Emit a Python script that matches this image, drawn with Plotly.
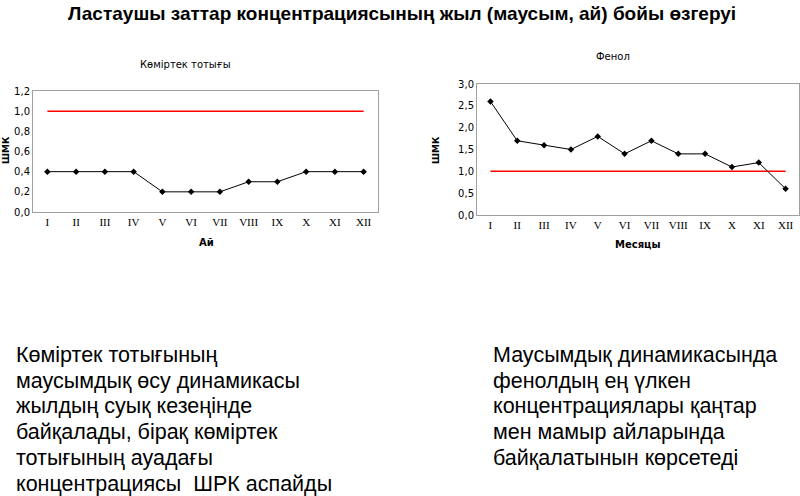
import plotly.graph_objects as go

months = ["I", "II", "III", "IV", "V", "VI", "VII", "VIII", "IX", "X", "XI", "XII"]
month_idx = list(range(1, 13))
co_values = [0.4, 0.4, 0.4, 0.4, 0.2, 0.2, 0.2, 0.3, 0.3, 0.4, 0.4, 0.4]
phenol_values = [2.6, 1.7, 1.6, 1.5, 1.8, 1.4, 1.7, 1.4, 1.4, 1.1, 1.2, 0.6]
limit_values = [1.0] * 12

main_title = "Ластаушы заттар концентрациясының жыл (маусым, ай) бойы өзгеруі"
left_title = "Көміртек тотығы"
right_title = "Фенол"
left_xlabel = "Ай"
right_xlabel = "Месяцы"
ylabel = "ШМК"
left_text = ["Көміртек тотығының", "маусымдық өсу динамикасы", "жылдың суық кезеңінде",
             "байқалады, бірақ көміртек", "тотығының ауадағы", "концентрациясы  ШРК аспайды"]
right_text = ["Маусымдық динамикасында", "фенолдың ең үлкен", "концентрациялары қаңтар",
              "мен мамыр айларында", "байқалатынын көрсетеді"]

W, H = 800, 496
def px(x): return x / W
def py(y): return 1 - y / H

fig = go.Figure()
for vals, xa, ya in [(co_values, "x", "y"), (phenol_values, "x2", "y2")]:
    fig.add_trace(go.Scatter(x=month_idx, y=limit_values, mode="lines",
                             line=dict(color="#ff0000", width=1.5), xaxis=xa, yaxis=ya,
                             showlegend=False, hoverinfo="skip"))
    fig.add_trace(go.Scatter(x=month_idx, y=vals, mode="lines+markers",
                             line=dict(color="black", width=1),
                             marker=dict(symbol="diamond", size=5, color="black"),
                             xaxis=xa, yaxis=ya, showlegend=False))

tickfont_y = dict(family="DejaVu Sans", size=10, color="black")
tickfont_x = dict(family="Liberation Serif", size=11, color="black")
common_x = dict(range=[0.5, 12.5], tickmode="array", tickvals=month_idx, ticktext=months,
                showgrid=False, zeroline=False, showline=True, mirror=True, automargin=False,
                linecolor="#a0a0a0", linewidth=1, tickfont=tickfont_x, ticks="")
common_y = dict(showgrid=False, zeroline=False, showline=True, mirror=True, automargin=False,
                linecolor="#a0a0a0", linewidth=1, tickfont=tickfont_y, tickformat=".1f",
                ticks="")

fig.update_layout(
    width=W, height=H, margin=dict(l=0, r=0, t=0, b=0, autoexpand=False),
    paper_bgcolor="white", plot_bgcolor="white", separators=", ",
    xaxis=dict(domain=[px(33), px(378)], anchor="y", **common_x),
    yaxis=dict(domain=[py(212), py(91)], anchor="x", range=[0, 1.2], dtick=0.2, **common_y),
    xaxis2=dict(domain=[px(477), px(799)], anchor="y2", **common_x),
    yaxis2=dict(domain=[py(215), py(84)], anchor="x2", range=[0, 3.0], dtick=0.5, **common_y),
)

ann = []
ann.append(dict(text="<b>" + main_title + "</b>", x=px(402), y=py(13), xref="paper", yref="paper",
                showarrow=False, font=dict(family="Liberation Sans", size=19, color="black"),
                xanchor="center", yanchor="middle"))
ann.append(dict(text=left_title, x=px(185), y=py(64), xref="paper", yref="paper", showarrow=False,
                font=dict(family="DejaVu Sans", size=10, color="black"), xanchor="center", yanchor="middle"))
ann.append(dict(text=right_title, x=px(613), y=py(56), xref="paper", yref="paper", showarrow=False,
                font=dict(family="DejaVu Sans", size=10, color="black"), xanchor="center", yanchor="middle"))
ann.append(dict(text="<b>" + left_xlabel + "</b>", x=px(206), y=py(242), xref="paper", yref="paper",
                showarrow=False, font=dict(family="DejaVu Sans", size=10, color="black"),
                xanchor="center", yanchor="middle"))
ann.append(dict(text="<b>" + right_xlabel + "</b>", x=px(638), y=py(245), xref="paper", yref="paper",
                showarrow=False, font=dict(family="DejaVu Sans", size=10, color="black"),
                xanchor="center", yanchor="middle"))
ann.append(dict(text="<b>" + ylabel + "</b>", x=px(6), y=py(150), xref="paper", yref="paper",
                showarrow=False, textangle=-90, font=dict(family="DejaVu Sans", size=9, color="black"),
                xanchor="center", yanchor="middle"))
ann.append(dict(text="<b>" + ylabel + "</b>", x=px(436), y=py(150), xref="paper", yref="paper",
                showarrow=False, textangle=-90, font=dict(family="DejaVu Sans", size=9, color="black"),
                xanchor="center", yanchor="middle"))
for i, line in enumerate(left_text):
    ann.append(dict(text=line, x=px(14), y=py(355 + i * 25.7), xref="paper", yref="paper",
                    showarrow=False, font=dict(family="Liberation Sans", size=21.5, color="black"),
                    xanchor="left", yanchor="middle"))
for i, line in enumerate(right_text):
    ann.append(dict(text=line, x=px(491), y=py(355 + i * 25.7), xref="paper", yref="paper",
                    showarrow=False, font=dict(family="Liberation Sans", size=21.5, color="black"),
                    xanchor="left", yanchor="middle"))
fig.update_layout(annotations=ann)

fig.write_html("out.html", config={"displayModeBar": False},
               post_script="document.body.style.margin='0';document.body.style.overflow='hidden';")
